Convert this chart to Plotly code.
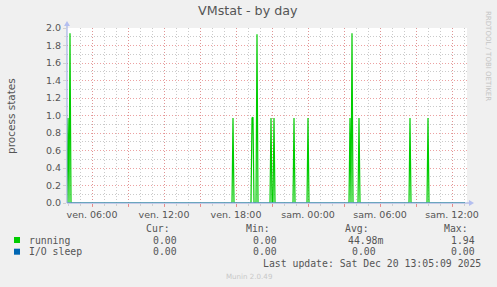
import plotly.graph_objects as go

# ---------------- data ----------------
running_times = [
    "2025-12-19 03:55", "2025-12-19 04:00", "2025-12-19 04:05", "2025-12-19 04:10", "2025-12-19 04:15",
    "2025-12-19 17:40", "2025-12-19 17:45", "2025-12-19 17:50",
    "2025-12-19 19:15", "2025-12-19 19:20", "2025-12-19 19:25", "2025-12-19 19:30",
    "2025-12-19 19:40", "2025-12-19 19:45", "2025-12-19 19:50",
    "2025-12-19 20:50", "2025-12-19 20:55", "2025-12-19 21:00",
    "2025-12-19 21:05", "2025-12-19 21:10", "2025-12-19 21:15",
    "2025-12-19 22:45", "2025-12-19 22:50", "2025-12-19 22:55",
    "2025-12-19 23:55", "2025-12-20 00:00", "2025-12-20 00:05",
    "2025-12-20 03:25", "2025-12-20 03:30", "2025-12-20 03:35", "2025-12-20 03:40", "2025-12-20 03:45",
    "2025-12-20 04:10", "2025-12-20 04:15", "2025-12-20 04:20",
    "2025-12-20 08:25", "2025-12-20 08:30", "2025-12-20 08:35",
    "2025-12-20 09:55", "2025-12-20 10:00", "2025-12-20 10:05",
    "2025-12-20 13:05",
]
running_values = [
    0, 0.97, 0, 1.94, 0,
    0, 0.97, 0,
    0, 0.97, 0.98, 0,
    0, 1.93, 0,
    0, 0.97, 0,
    0, 0.97, 0,
    0, 0.97, 0,
    0, 0.97, 0,
    0, 0.97, 0, 1.94, 0,
    0, 0.97, 0,
    0, 0.97, 0,
    0, 0.97, 0,
    0,
]
iosleep_times = ["2025-12-19 03:55", "2025-12-20 13:05"]
iosleep_values = [0, 0]

major_tick_times = [
    "2025-12-19 06:00", "2025-12-19 09:00", "2025-12-19 12:00", "2025-12-19 15:00",
    "2025-12-19 18:00", "2025-12-19 21:00", "2025-12-20 00:00", "2025-12-20 03:00",
    "2025-12-20 06:00", "2025-12-20 09:00", "2025-12-20 12:00",
]
major_tick_labels = [
    "ven. 06:00", "", "ven. 12:00", "", "ven. 18:00", "", "sam. 00:00", "",
    "sam. 06:00", "", "sam. 12:00",
]

legend_names = ["running", "I/O sleep"]
legend_colors = ["#00cc00", "#0066b3"]
legend_cur = ["0.00", "0.00"]
legend_min = ["0.00", "0.00"]
legend_avg = ["44.98m", "0.00"]
legend_max = ["1.94", "0.00"]

title_text = "VMstat - by day"
y_title = "process states"
last_update = "Last update: Sat Dec 20 13:05:09 2025"
footer = "Munin 2.0.49"
side_text = "RRDTOOL / TOBI OETIKER"

# ---------------- geometry ----------------
W, H = 497, 287
L, R, T, B = 67, 467, 28, 203


def px(x):
    return (x - L) / (R - L)


def py(y):
    return (B - y) / (B - T)


fig = go.Figure()
fig.add_trace(go.Scatter(x=running_times, y=running_values, mode="lines",
                         line=dict(color=legend_colors[0], width=1.2), name=legend_names[0],
                         showlegend=False, hoverinfo="skip"))
fig.add_trace(go.Scatter(x=iosleep_times, y=iosleep_values, mode="lines",
                         line=dict(color=legend_colors[1], width=1), name=legend_names[1],
                         showlegend=False, hoverinfo="skip"))

MAJOR = "rgba(230,130,130,0.75)"
MINOR = "rgba(180,180,180,0.7)"
AXIS = "#97a6e2"
TXT = "#555555"
SANS = "DejaVu Sans"
MONO = "DejaVu Sans Mono"

fig.update_xaxes(
    type="date",
    range=["2025-12-19 03:55", "2025-12-20 13:15"],
    tickvals=major_tick_times, ticktext=major_tick_labels,
    showgrid=True, gridcolor=MAJOR, griddash="1px,2px", gridwidth=1,
    ticks="outside", ticklen=3, tickcolor="rgba(235,120,120,0.8)",
    tickfont=dict(family=SANS, size=9.5, color=TXT),
    minor=dict(dtick=3600000, tick0="2025-12-19 00:00", showgrid=True,
               gridcolor=MINOR, griddash="1px,2px", gridwidth=1,
               ticks="outside", ticklen=2, tickcolor="#d0d0d0"),
    showline=False, zeroline=False, fixedrange=True,
)
fig.update_yaxes(
    range=[0, 2.0], dtick=0.2, tick0=0, tickformat=".1f",
    showgrid=True, gridcolor=MAJOR, griddash="1px,2px", gridwidth=1,
    ticks="outside", ticklen=3, tickcolor="#d0d0d0",
    tickfont=dict(family=SANS, size=9.5, color=TXT),
    minor=dict(dtick=0.1, tick0=0, showgrid=True, gridcolor=MINOR,
               griddash="1px,2px", gridwidth=1, ticks="outside", ticklen=2,
               tickcolor="#dcdcdc"),
    showline=False, zeroline=False, fixedrange=True,
)

shapes = []
# axis lines
shapes.append(dict(type="line", xref="paper", yref="paper", x0=px(L), x1=px(R + 2),
                   y0=0, y1=0, line=dict(color=AXIS, width=1), layer="above"))
shapes.append(dict(type="line", xref="paper", yref="paper", x0=0, x1=0,
                   y0=0, y1=py(T - 2), line=dict(color=AXIS, width=1), layer="above"))
# arrows
shapes.append(dict(type="path", xref="paper", yref="paper",
                   path=f"M {px(R + 2)},{py(B - 3)} L {px(R + 7)},{py(B)} L {px(R + 2)},{py(B + 3)} Z",
                   fillcolor="#b4bff0", line=dict(width=0), layer="above"))
shapes.append(dict(type="path", xref="paper", yref="paper",
                   path=f"M {px(L - 3)},{py(T - 2)} L {px(L)},{py(T - 7)} L {px(L + 3)},{py(T - 2)} Z",
                   fillcolor="#b4bff0", line=dict(width=0), layer="above"))
# legend squares
for i, c in enumerate(legend_colors):
    yc = 240 + 11.7 * i
    shapes.append(dict(type="rect", xref="paper", yref="paper",
                       x0=px(14), x1=px(20), y0=py(yc + 3), y1=py(yc - 3),
                       fillcolor=c, line=dict(width=0)))

ann = []


def text(x, y, s, size, family, color, xanchor="left", angle=0):
    ann.append(dict(xref="paper", yref="paper", x=px(x), y=py(y), text=s,
                    showarrow=False, xanchor=xanchor, yanchor="middle",
                    textangle=angle, font=dict(family=family, size=size, color=color)))


text(248, 11, title_text, 12.7, SANS, "#555555", "center")
text(11, 116, y_title, 10.5, SANS, TXT, "center", -90)
text(488, 56, side_text, 7, SANS, "#c4c4c4", "center", 90)

MS = 9.8
text(172, 228.3, "Cur:", MS, MONO, TXT, "right")
text(272, 228.3, "Min:", MS, MONO, TXT, "right")
text(371, 228.3, "Avg:", MS, MONO, TXT, "right")
text(470, 228.3, "Max:", MS, MONO, TXT, "right")
for i, name in enumerate(legend_names):
    yc = 240 + 11.7 * i
    text(27, yc, name, MS, MONO, TXT, "left")
    text(178.5, yc, legend_cur[i], MS, MONO, TXT, "right")
    text(278.5, yc, legend_min[i], MS, MONO, TXT, "right")
    avg_right = 384.5 if legend_avg[i].endswith("m") else 378
    text(avg_right, yc, legend_avg[i], MS, MONO, TXT, "right")
    text(477, yc, legend_max[i], MS, MONO, TXT, "right")
text(482.5, 263.3, last_update, MS, MONO, TXT, "right")
text(249, 276, footer, 7.1, SANS, "#c8c8c8", "center")

fig.update_layout(
    width=W, height=H,
    margin=dict(l=L, r=W - R, t=T, b=H - B, pad=0),
    paper_bgcolor="#f0f0f0", plot_bgcolor="#ffffff",
    shapes=shapes, annotations=ann, showlegend=False,
)

fig.write_html("out.html", config={"displayModeBar": False})
